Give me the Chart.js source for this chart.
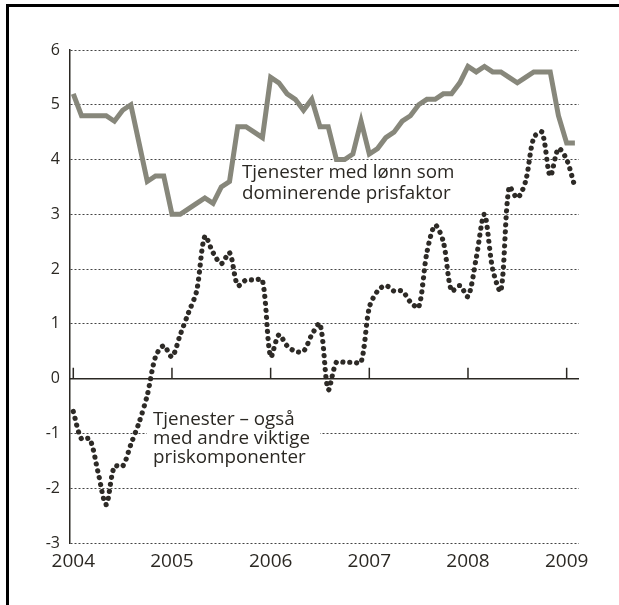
<!DOCTYPE html>
<html>
<head>
    <meta charset="UTF-8">
    <title>Tjenester</title>
    <script src="https://cdn.jsdelivr.net/npm/chart.js"></script>
    <style>
        body {
            margin: 0;
            background: #fff;
            font-family: "Open Sans", sans-serif;
        }

        #wrap {
            position: relative;
            width: 619px;
            height: 605px;
            overflow: hidden;
        }

        #frame {
            position: absolute;
            left: 6px;
            top: 4px;
            width: 700px;
            height: 700px;
            border: 3px solid #000;
            box-sizing: border-box;
        }

        canvas {
            position: absolute;
            left: 0;
            top: 0;
        }

        .note {
            position: absolute;
            font-size: 18.8px;
            color: #2b2823;
            white-space: nowrap;
        }
    </style>
</head>

<body>
    <div id="wrap">
        <div id="frame"></div>
        <canvas id="chart" width="619" height="605"></canvas>
        <div class="note" style="left:242px; top:161px; line-height:21px;">Tjenester med lønn som<br>dominerende prisfaktor</div>
        <div class="note" style="left:147px; top:409px; line-height:19px; padding:0 10px 0 6px; background:#fff;">Tjenester – også<br>med andre viktige<br>priskomponenter</div>
    </div>

    <script>
        // monthly data, Jan 2004 - Feb 2009
        var yearLabels = ['2004', '2005', '2006', '2007', '2008', '2009'];

        // Tjenester med lønn som dominerende prisfaktor
        var lonnSeries = [
            5.2, 4.8, 4.8, 4.8, 4.8, 4.7, 4.9, 5.0, 4.3, 3.6, 3.7, 3.7,
            3.0, 3.0, 3.1, 3.2, 3.3, 3.2, 3.5, 3.6, 4.6, 4.6, 4.5, 4.4,
            5.5, 5.4, 5.2, 5.1, 4.9, 5.1, 4.6, 4.6, 4.0, 4.0, 4.1, 4.7,
            4.1, 4.2, 4.4, 4.5, 4.7, 4.8, 5.0, 5.1, 5.1, 5.2, 5.2, 5.4,
            5.7, 5.6, 5.7, 5.6, 5.6, 5.5, 5.4, 5.5, 5.6, 5.6, 5.6, 4.8,
            4.3, 4.3
        ];

        // Tjenester - også med andre viktige priskomponenter
        var andreSeries = [
            -0.6, -1.1, -1.1, -1.7, -2.3, -1.6, -1.6, -1.2, -0.8, -0.3, 0.4, 0.6,
            0.4, 0.8, 1.2, 1.6, 2.6, 2.3, 2.1, 2.3, 1.7, 1.8, 1.8, 1.8,
            0.4, 0.8, 0.6, 0.5, 0.5, 0.8, 1.0, -0.2, 0.3, 0.3, 0.3, 0.3,
            1.3, 1.6, 1.7, 1.6, 1.6, 1.4, 1.3, 2.3, 2.8, 2.5, 1.6, 1.7,
            1.5, 2.2, 3.0, 2.0, 1.6, 3.5, 3.3, 3.6, 4.4, 4.5, 3.7, 4.2,
            4.0, 3.5
        ];

        function toPoints(arr) {
            return arr.map(function (v, i) { return { x: i, y: v }; });
        }

        var textColor = '#2b2823';

        // solid zero line with year ticks
        var axisMarks = {
            id: 'axisMarks',
            beforeDatasetsDraw: function (chart) {
                var ctx = chart.ctx, area = chart.chartArea;
                var x = chart.scales.x, y = chart.scales.y;
                var y0 = y.getPixelForValue(0);
                ctx.save();
                ctx.strokeStyle = textColor;
                ctx.lineWidth = 1.5;
                ctx.beginPath();
                ctx.moveTo(area.left, y0);
                ctx.lineTo(area.right, y0);
                yearLabels.forEach(function (l, i) {
                    var px = x.getPixelForValue(i * 12);
                    ctx.moveTo(px, y0);
                    ctx.lineTo(px, y0 - 11);
                });
                ctx.stroke();
                ctx.restore();
            }
        };

        new Chart(document.getElementById('chart').getContext('2d'), {
            type: 'line',
            data: {
                datasets: [{
                    label: 'Tjenester - også med andre viktige priskomponenter',
                    data: toPoints(andreSeries),
                    borderColor: '#2d2a26',
                    borderWidth: 5.2,
                    borderDash: [0.01, 7],
                    borderCapStyle: 'round',
                    tension: 0.3,
                    pointRadius: 0,
                    fill: false
                }, {
                    label: 'Tjenester med lønn som dominerende prisfaktor',
                    data: toPoints(lonnSeries),
                    borderColor: '#87877b',
                    borderWidth: 5,
                    borderJoinStyle: 'miter',
                    tension: 0,
                    pointRadius: 0,
                    fill: false
                }]
            },
            options: {
                responsive: false,
                animation: false,
                layout: { padding: { top: 50, right: 40, left: 0, bottom: 0 } },
                plugins: {
                    legend: { display: false },
                    tooltip: { enabled: false }
                },
                scales: {
                    x: {
                        type: 'linear',
                        min: -0.4,
                        max: 61.5,
                        grid: { display: false },
                        border: { display: false },
                        afterBuildTicks: function (scale) {
                            scale.ticks = yearLabels.map(function (l, i) { return { value: i * 12 }; });
                        },
                        afterFit: function (scale) { scale.height = 62; },
                        ticks: {
                            autoSkip: false,
                            maxRotation: 0,
                            padding: -1,
                            color: textColor,
                            font: { family: 'Open Sans', size: 19 },
                            callback: function (v) { return yearLabels[Math.round(v / 12)]; }
                        }
                    },
                    y: {
                        min: -3,
                        max: 6,
                        grid: { color: '#444', lineWidth: 1, drawTicks: false },
                        border: { display: true, color: textColor, width: 1.5, dash: [2, 2] },
                        afterFit: function (scale) { scale.width = 70; },
                        ticks: {
                            stepSize: 1,
                            padding: 10,
                            color: textColor,
                            font: { family: 'Open Sans', size: 16 }
                        }
                    }
                }
            },
            plugins: [axisMarks]
        });
    </script>
</body>

</html>
